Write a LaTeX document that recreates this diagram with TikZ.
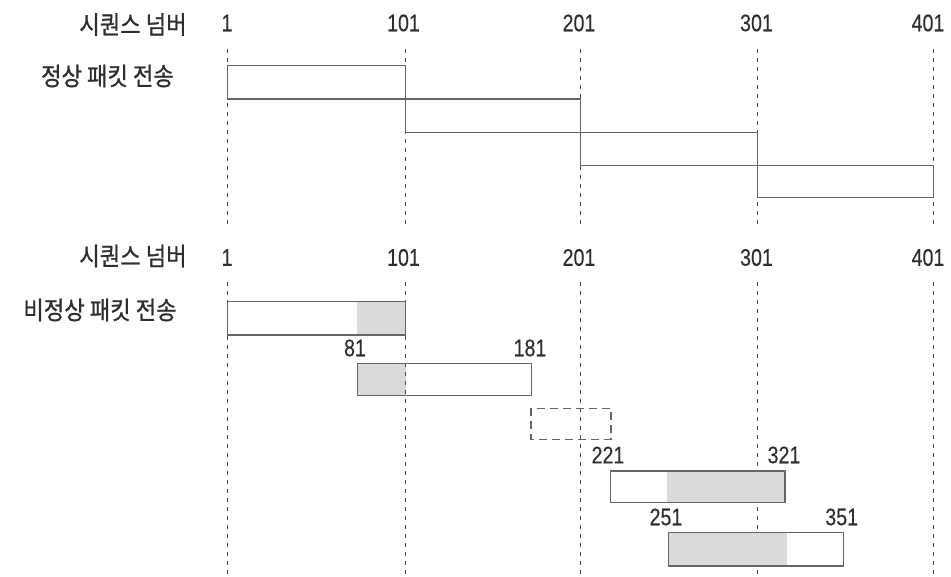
\documentclass[tikz,border=0pt]{standalone}
\usepackage{fontspec}
\usepackage{graphicx}
\setmainfont{Noto Sans CJK KR}
\newfontfamily\kofont{Noto Sans CJK KR}[FakeBold=0.9]
\newfontfamily\numfont{Liberation Sans}[FakeBold=0.2]
\definecolor{txtcol}{HTML}{2E2E2E}
\definecolor{boxcol}{HTML}{666666}
\definecolor{guidecol}{HTML}{4A4A4A}
\definecolor{lossfill}{HTML}{DADADA}
% Korean labels: slightly condensed gothic
\newcommand{\kolabel}[1]{\scalebox{0.89}[1]{\kofont\fontsize{25}{28}\selectfont #1}}
% sequence numbers: narrow sans digits
\newcommand{\seqnum}[1]{\scalebox{0.82}[1]{\numfont\fontsize{24}{26}\selectfont #1}}
\begin{document}
\begin{tikzpicture}[x=1pt,y=-1pt,
  guide/.style={draw=guidecol, line width=0.9pt, dash pattern=on 4pt off 5pt},
  pkt/.style={draw=boxcol, line width=1.4pt},
  lostpkt/.style={draw=boxcol, line width=1.4pt, dash pattern=on 8pt off 5pt},
  lbl/.style={text=txtcol, inner sep=0pt, outer sep=0pt}]
\useasboundingbox (0,0) rectangle (951,577);

% ---------- normal transmission ----------
\node[lbl] (seqA) at (133,24.5) {\kolabel{시퀀스 넘버}};
\node[lbl] (normal) at (107.5,76) {\kolabel{정상 패킷 전송}};
\node[lbl] (a1)   at (227,23) {\seqnum{1}};
\node[lbl] (a101) at (403.5,23) {\seqnum{101}};
\node[lbl] (a201) at (579,23) {\seqnum{201}};
\node[lbl] (a301) at (756.5,23) {\seqnum{301}};
\node[lbl] (a401) at (928,23) {\seqnum{401}};

\foreach \x in {227.5,405.5,580.7,757.7,933.3}
  \draw[guide] (\x,49) -- (\x,224);

\draw[pkt, fill=white] (227.5,65.7) rectangle (405.5,99);
\draw[pkt, fill=white] (405.5,99) rectangle (580.7,132.3);
\draw[pkt, fill=white] (580.7,132.3) rectangle (757.7,165.7);
\draw[pkt, fill=white] (757.7,165.7) rectangle (933.3,197.7);

% ---------- abnormal transmission ----------
\node[lbl] (seqB) at (133,256) {\kolabel{시퀀스 넘버}};
\node[lbl] (abnormal) at (100,310) {\kolabel{비정상 패킷 전송}};
\node[lbl] (b1)   at (227,257.5) {\seqnum{1}};
\node[lbl] (b101) at (403.5,257.5) {\seqnum{101}};
\node[lbl] (b201) at (579,257.5) {\seqnum{201}};
\node[lbl] (b301) at (756.5,257.5) {\seqnum{301}};
\node[lbl] (b401) at (928,257.5) {\seqnum{401}};

\foreach \x in {227.5,405.5,580.7,757.7,933.3}
  \draw[guide] (\x,282) -- (\x,577);

% packet 1..101 with overlapping tail
\fill[white] (227.5,301.7) rectangle (405.5,335);
\fill[lossfill] (356.7,301.7) rectangle (405.5,335);
\draw[pkt] (227.5,301.7) rectangle (405.5,335);

% packet 81..181
\node[lbl] (n81)  at (355,348) {\seqnum{81}};
\node[lbl] (n181) at (530,348) {\seqnum{181}};
\fill[white] (357.3,363.3) rectangle (531.7,395.3);
\fill[lossfill] (357.3,363.3) rectangle (405.5,395.3);
\draw[guide] (405.5,363.3) -- (405.5,395.3);
\draw[pkt] (357.3,363.3) rectangle (531.7,395.3);

% lost segment
\draw[lostpkt] (531,408.3) rectangle (611,439.3);

% packet 221..321
\node[lbl] (n221) at (608,455) {\seqnum{221}};
\node[lbl] (n321) at (784,455) {\seqnum{321}};
\fill[white] (610.7,471) rectangle (785,502.7);
\fill[lossfill] (667.3,471) rectangle (785,502.7);
\draw[pkt] (610.7,471) rectangle (785,502.7);

% packet 251..351
\node[lbl] (n251) at (666,517) {\seqnum{251}};
\node[lbl] (n351) at (841.7,517) {\seqnum{351}};
\fill[white] (668.7,532.7) rectangle (843.3,566);
\fill[lossfill] (668.7,532.7) rectangle (786.7,566);
\draw[pkt] (668.7,532.7) rectangle (843.3,566);
\end{tikzpicture}
\end{document}
